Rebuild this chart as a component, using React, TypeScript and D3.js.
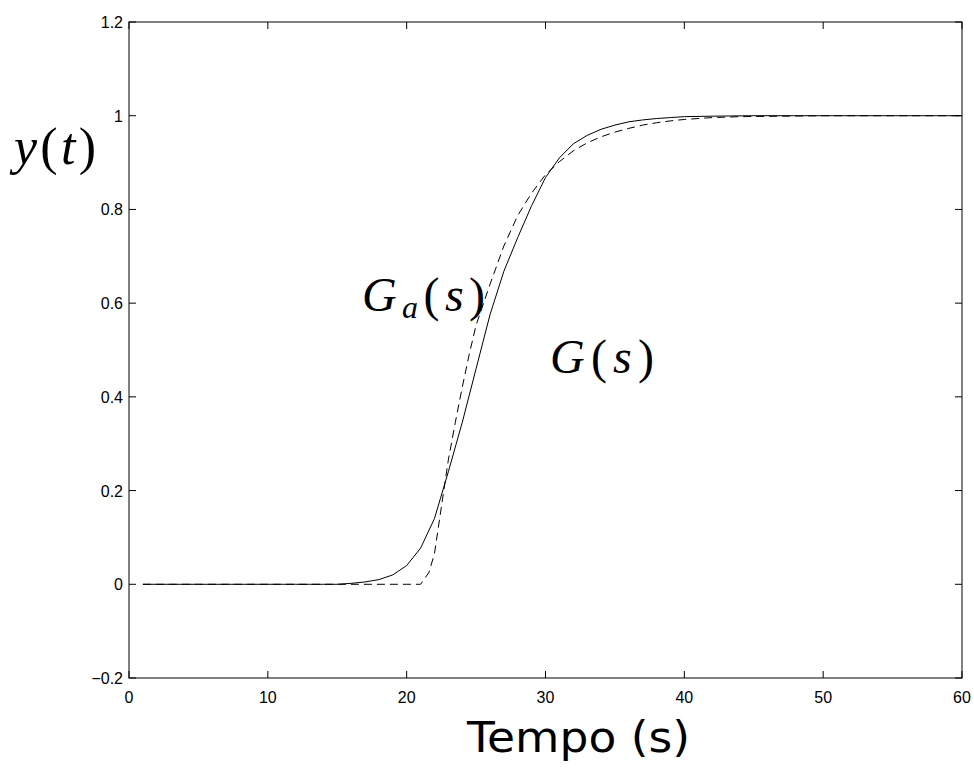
import React from 'react';
import * as d3 from 'd3';

// resposta ao degrau: G(s) (cheia) e aproximação Ga(s) (tracejada)
const tempoG = [1, 2, 3, 4, 5, 6, 7, 8, 9, 10, 11, 12, 13, 14, 15, 16, 17, 18, 19, 20, 21, 22, 23, 24, 25, 26, 27, 28, 29, 30, 31, 32, 33, 34, 35, 36, 37, 38, 39, 40, 42, 45, 50, 55, 60];
const saidaG = [0, 0, 0, 0, 0, 0, 0, 0, 0, 0, 0, 0, 0, 0, 0, 0.002, 0.005, 0.01, 0.02, 0.04, 0.077, 0.14, 0.24, 0.345, 0.46, 0.575, 0.668, 0.74, 0.808, 0.868, 0.91, 0.94, 0.958, 0.971, 0.98, 0.987, 0.991, 0.994, 0.996, 0.998, 0.999, 1, 1, 1, 1];

const tempoGa = [1, 5, 10, 15, 20, 21, 21.6, 22, 22.5, 23, 23.5, 24, 24.5, 25, 26, 27, 28, 29, 30, 31, 32, 33, 34, 35, 36, 37, 38, 39, 40, 42, 44, 47, 50, 55, 60];
const saidaGa = [0, 0, 0, 0, 0, 0, 0.025, 0.065, 0.165, 0.265, 0.345, 0.42, 0.49, 0.553, 0.64, 0.722, 0.787, 0.835, 0.874, 0.902, 0.925, 0.942, 0.955, 0.965, 0.973, 0.98, 0.985, 0.989, 0.992, 0.996, 0.998, 0.999, 1, 1, 1];

const xTicks = [0, 10, 20, 30, 40, 50, 60];
const yTicks = [-0.2, 0, 0.2, 0.4, 0.6, 0.8, 1, 1.2];

const W = 974;
const H = 772;
const left = 129, right = 962, top = 22, bottom = 678;

const fmtY = (v: number) => {
  const s = d3.format('~g')(+v.toFixed(1));
  return s.replace('-', '\u2212');
};

const App = () => {
  const x = d3.scaleLinear().domain([0, 60]).range([left, right]);
  const y = d3.scaleLinear().domain([-0.2, 1.2]).range([bottom, top]);

  const linha = d3.line<[number, number]>()
    .x(d => x(d[0]))
    .y(d => y(d[1]));

  const ptsG = tempoG.map((t, i) => [t, saidaG[i]] as [number, number]);
  const ptsGa = tempoGa.map((t, i) => [t, saidaGa[i]] as [number, number]);

  const tick = 7;
  const math = '"Liberation Serif", "DejaVu Serif", serif';

  return (
    <svg width={W} height={H} style={{ position: 'absolute', left: 0, top: 0, background: '#fff' }}>
      <rect x={0} y={0} width={W} height={H} fill="#fff" />

      {/* ticks */}
      <g stroke="#000" strokeWidth={1}>
        {xTicks.map(t => (
          <g key={'x' + t}>
            <line x1={x(t)} x2={x(t)} y1={bottom} y2={bottom - tick} />
            <line x1={x(t)} x2={x(t)} y1={top} y2={top + tick} />
          </g>
        ))}
        {yTicks.map(t => (
          <g key={'y' + t}>
            <line x1={left} x2={left + tick} y1={y(t)} y2={y(t)} />
            <line x1={right} x2={right - tick} y1={y(t)} y2={y(t)} />
          </g>
        ))}
      </g>

      <rect x={left} y={top} width={right - left} height={bottom - top} fill="none" stroke="#000" strokeWidth={1} />

      {/* rótulos dos eixos */}
      <g fontFamily='"Liberation Sans", Arial, sans-serif' fontSize={16} fill="#000">
        {xTicks.map(t => (
          <text key={'xl' + t} x={x(t)} y={bottom + 25} textAnchor="middle">{t}</text>
        ))}
        {yTicks.map(t => (
          <text key={'yl' + t} x={left - 6} y={y(t) + 6} textAnchor="end">{fmtY(t)}</text>
        ))}
      </g>

      <path d={linha(ptsG) || ''} fill="none" stroke="#000" strokeWidth={1} />
      <path d={linha(ptsGa) || ''} fill="none" stroke="#000" strokeWidth={1} strokeDasharray="8,5" />

      <text x={14} y={164} fontFamily={math} fontSize={52} fill="#000"
        textLength={82} lengthAdjust="spacing">
        <tspan fontStyle="italic">y</tspan>
        <tspan>(</tspan>
        <tspan fontStyle="italic">t</tspan>
        <tspan>)</tspan>
      </text>

      <text x={362} y={311} fontFamily={math} fontSize={48} fill="#000"
        textLength={123} lengthAdjust="spacing">
        <tspan fontStyle="italic">G</tspan>
        <tspan fontStyle="italic" fontSize={32} dy={7}>a</tspan>
        <tspan dy={-7}>(</tspan>
        <tspan fontStyle="italic">s</tspan>
        <tspan>)</tspan>
      </text>

      <text x={550} y={373} fontFamily={math} fontSize={48} fill="#000"
        textLength={104} lengthAdjust="spacing">
        <tspan fontStyle="italic">G</tspan>
        <tspan>(</tspan>
        <tspan fontStyle="italic">s</tspan>
        <tspan>)</tspan>
      </text>

      <text x={467} y={752} fontFamily='"DejaVu Sans", sans-serif' fontSize={42} fill="#000"
        textLength={223} lengthAdjust="spacingAndGlyphs">Tempo (s)</text>
    </svg>
  );
};

export default App;
